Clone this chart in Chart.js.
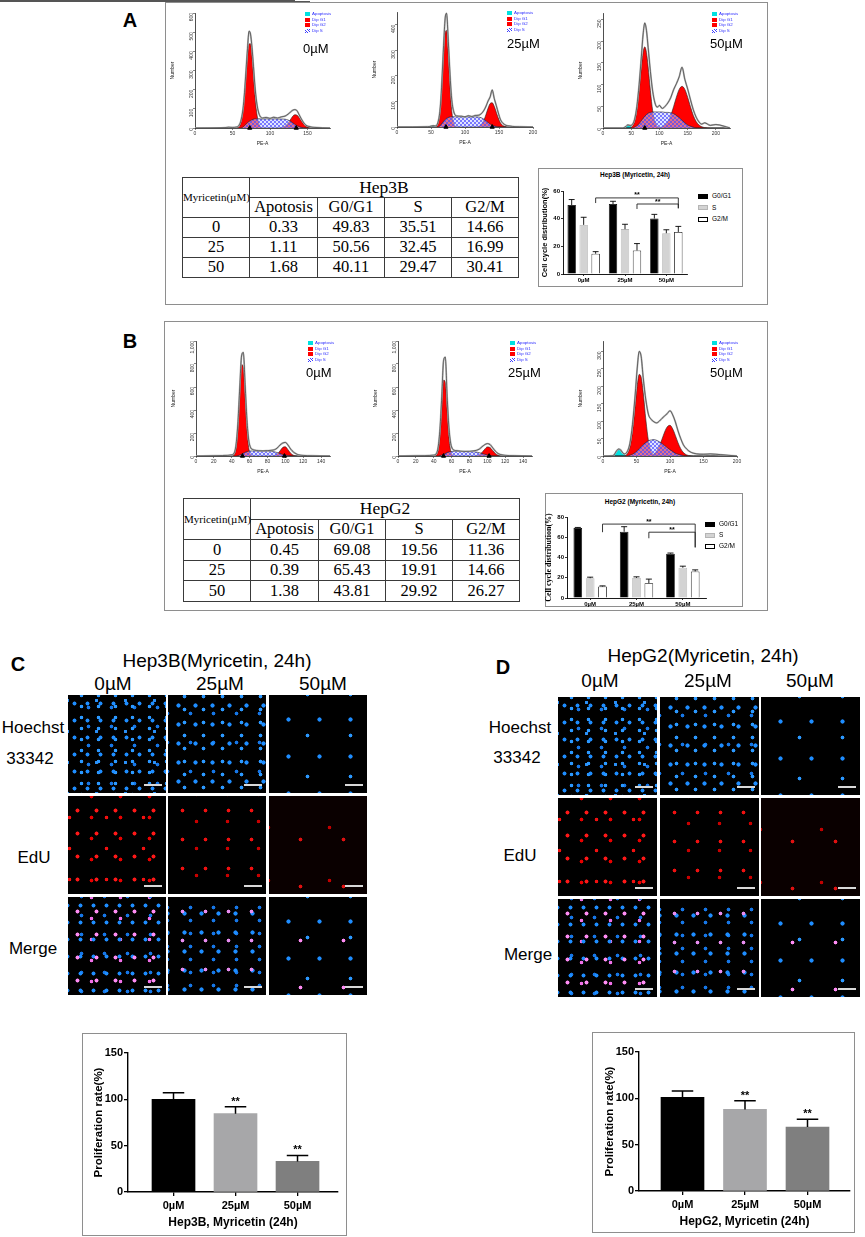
<!DOCTYPE html>
<html>
<head>
<meta charset="utf-8">
<title>Myricetin: cell cycle and EdU proliferation</title>
<script src="https://cdn.jsdelivr.net/npm/chart.js@4.4.1/dist/chart.umd.min.js"></script>
<style>
  body { margin:0; width:865px; height:1237px; position:relative; background:#fff; overflow:hidden;
         font-family:"Liberation Sans", Arial, sans-serif; color:#000; }
  canvas { position:absolute; }
  .t { position:absolute; white-space:nowrap; line-height:1; }
  .box { position:absolute; box-sizing:border-box; border:1.5px solid #8e8e8e; }
  .sq { position:absolute; box-sizing:border-box; }
  table.cc { position:absolute; border-collapse:collapse; table-layout:fixed;
             font-family:"Liberation Serif","Times New Roman",serif; border:1.6px solid #3a3a3a; }
  table.cc td { border:1.3px solid #3a3a3a; text-align:center; padding:0; font-size:16.5px; line-height:1; }
  .img { position:absolute; background-color:#000; }
  .img .bar { position:absolute; right:4px; bottom:7px; width:18px; height:2px; background:#d8d8d8; }
  .hb0  { background-image:radial-gradient(circle,#1e8dff 0 1.7px,transparent 2.3px),radial-gradient(circle,#2b98ff 0 1.5px,transparent 2.1px),radial-gradient(circle,#1676e6 0 1.6px,transparent 2.2px),radial-gradient(circle,#2a90f8 0 1.4px,transparent 2px);
          background-size:13px 17px,17px 11px,23px 19px,29px 31px; background-position:0 0,5px 6px,9px 3px,14px 21px; }
  .hb25 { background-image:radial-gradient(circle,#1e8dff 0 1.8px,transparent 2.4px),radial-gradient(circle,#2b98ff 0 1.6px,transparent 2.2px),radial-gradient(circle,#1676e6 0 1.6px,transparent 2.2px);
          background-size:17px 19px,19px 13px,23px 29px; background-position:2px 1px,7px 8px,11px 4px; }
  .hb50 { background-image:radial-gradient(circle,#1e8dff 0 1.8px,transparent 2.4px),radial-gradient(circle,#2b98ff 0 1.6px,transparent 2.2px);
          background-size:31px 37px,43px 41px; background-position:4px 6px,17px 20px; }
  .ed0  { background-image:radial-gradient(circle,#ff1818 0 1.7px,transparent 2.3px),radial-gradient(circle,#e80000 0 1.6px,transparent 2.2px),radial-gradient(circle,#f21010 0 1.5px,transparent 2.1px);
          background-size:19px 23px,29px 21px,37px 31px; background-position:0 3px,9px 11px,20px 6px; }
  .ed25 { background-image:radial-gradient(circle,#f01010 0 1.6px,transparent 2.2px),radial-gradient(circle,#c80000 0 1.5px,transparent 2.1px);
          background-size:23px 29px,31px 27px; background-position:3px 0,13px 12px; }
  .ed50 { background-color:#0a0000; background-image:radial-gradient(circle,#e01010 0 1.6px,transparent 2.2px),radial-gradient(circle,#c00000 0 1.5px,transparent 2.1px);
          background-size:43px 47px,61px 53px; background-position:10px 20px,30px 5px; }
  .mg0  { background-image:radial-gradient(circle,#ff8cf4 0 1.7px,transparent 2.3px),radial-gradient(circle,#1e8dff 0 1.7px,transparent 2.3px),radial-gradient(circle,#1676e6 0 1.6px,transparent 2.2px),radial-gradient(circle,#f070e8 0 1.5px,transparent 2.1px);
          background-size:19px 23px,13px 17px,23px 19px,29px 21px; background-position:0 3px,6px 0,2px 9px,9px 11px; }
  .mg25 { background-image:radial-gradient(circle,#e88cf0 0 1.6px,transparent 2.2px),radial-gradient(circle,#1e8dff 0 1.8px,transparent 2.4px),radial-gradient(circle,#1676e6 0 1.6px,transparent 2.2px);
          background-size:23px 29px,17px 19px,23px 13px; background-position:3px 0,8px 7px,11px 4px; }
  .mg50 { background-image:radial-gradient(circle,#ff8cf4 0 1.6px,transparent 2.2px),radial-gradient(circle,#1e8dff 0 1.8px,transparent 2.4px),radial-gradient(circle,#2b98ff 0 1.6px,transparent 2.2px);
          background-size:43px 47px,31px 37px,43px 41px; background-position:10px 20px,4px 6px,17px 20px; }
</style>
</head>
<body>
<script>
// ---------- data ----------
const doses = ['0µM', '25µM', '50µM'];
const doseValues = [0, 25, 50];
const phases = ['G0/G1', 'S', 'G2/M'];

// Hep3B flow histograms (PE-A channel vs count)
const a1Pe = [0,40,45,50,55,58,61,64,66,68,70,72,74,76,78,80,82,85,90,95,100,105,110,115,120,124,127,130,133,136,139,142,145,148,152,156,160,170,180];
const a1Total = [0,2,4,3,5,10,35,100,185,300,415,505,490,420,320,215,140,78,52,55,50,56,52,58,62,72,82,92,96,90,68,46,27,14,8,4,3,1,0];
const a1G1 = [0,0,0,0,1,5,25,88,168,271,373,438,440,373,271,168,88,25,1,0,0,0,0,0,0,0,0,0,0,0,0,0,0,0,0,0,0,0,0];
const a1S = [0,0,0,0,0,0,0,5,12,20,28,34,39,43,46,48,48,48,47,48,47,48,47,47,46,42,36,28,20,12,7,3,1,0,0,0,0,0,0];
const a1G2 = [0,0,0,0,0,0,0,0,0,0,0,0,0,0,0,0,0,0,0,0,0,0,0,2,9,25,42,60,69,67,54,36,20,9,3,1,0,0,0];
const a1ApoPe = [40,45,50];
const a1Apo = [0,3,0];
const a1Marks = [73,135];

const a2Pe = [0,45,50,53,56,60,63,65,67,69,71,73,75,77,79,81,84,88,95,100,105,110,115,120,124,128,131,134,137,140,143,146,149,152,156,160,165,170,180,200];
const a2Total = [0,1,3,5,4,16,60,130,235,345,430,445,360,255,160,95,55,43,42,40,44,41,45,46,52,66,82,102,118,145,112,84,55,30,14,7,4,2,1,0];
const a2G1 = [0,0,0,0,0,11,52,114,207,307,374,378,307,207,114,52,11,1,0,0,0,0,0,0,0,0,0,0,0,0,0,0,0,0,0,0,0,0,0,0];
const a2S = [0,0,0,0,0,0,4,10,17,24,30,34,37,39,40,40,40,40,40,39,40,39,40,39,36,30,24,18,12,7,4,2,0,0,0,0,0,0,0,0];
const a2G2 = [0,0,0,0,0,0,0,0,0,0,0,0,0,0,0,0,0,0,0,0,0,0,0,2,10,28,50,74,92,95,81,58,35,17,5,2,0,0,0,0];
const a2ApoPe = [45,50,53,56];
const a2Apo = [0,4,5,0];
const a2Marks = [72,140];

const a3Pe = [0,35,40,44,48,52,56,60,64,68,71,74,77,80,84,88,92,96,100,105,110,115,120,125,130,135,140,145,150,155,160,165,170,175,180,190,200,225];
const a3Total = [0,0,3,7,6,8,20,50,100,165,215,242,225,185,130,85,58,48,52,45,50,58,70,88,102,118,140,112,90,65,42,25,14,9,12,6,8,0];
const a3G1 = [0,0,0,0,0,4,15,40,86,141,174,187,174,141,86,40,15,4,1,0,0,0,0,0,0,0,0,0,0,0,0,0,0,0,0,0,0,0];
const a3S = [0,0,0,0,0,0,2,5,10,17,22,27,31,34,36,37,37,37,37,37,36,36,35,33,29,24,18,12,7,4,2,0,0,0,0,0,0,0];
const a3G2 = [0,0,0,0,0,0,0,0,0,0,0,0,0,0,0,0,0,0,1,3,7,15,29,49,71,89,96,89,71,49,29,15,7,3,1,0,0,0];
const a3ApoPe = [35,40,44,48,52];
const a3Apo = [0,3,6,5,0];
const a3Marks = [74];

// HepG2 flow histograms
const b1Pe = [0,20,30,40,43,45,47,49,51,53,55,57,59,61,63,66,70,75,80,85,88,91,94,97,100,103,106,109,112,115,120,130,150];
const b1Total = [0,2,4,10,30,110,300,600,870,900,620,320,140,75,58,50,46,45,47,50,55,70,95,112,118,95,60,35,20,10,5,2,0];
const b1G1 = [0,0,0,0,15,74,240,523,795,770,523,240,74,15,2,0,0,0,0,0,0,0,0,0,0,0,0,0,0,0,0,0,0];
const b1S = [0,0,0,0,0,0,3,8,15,24,32,38,42,44,44,44,43,42,42,40,36,30,22,14,8,4,1,0,0,0,0,0,0];
const b1G2 = [0,0,0,0,0,0,0,0,0,0,0,0,0,0,0,0,0,0,0,1,4,17,44,74,80,55,24,7,1,0,0,0,0];
const b1Marks = [52,99];

const b2Pe = [0,20,30,40,43,45,47,49,51,53,55,57,59,61,63,66,70,75,80,85,88,91,94,97,100,103,106,109,112,115,120,130,150];
const b2Total = [0,2,3,8,22,80,240,520,830,860,520,250,110,62,50,46,42,40,41,45,50,60,80,98,108,100,72,42,22,12,6,3,0];
const b2G1 = [0,0,0,0,10,50,175,415,660,640,400,165,45,9,1,0,0,0,0,0,0,0,0,0,0,0,0,0,0,0,0,0,0];
const b2S = [0,0,0,0,0,0,3,8,14,22,30,35,38,40,40,40,39,39,38,37,34,29,22,15,9,4,1,0,0,0,0,0,0];
const b2G2 = [0,0,0,0,0,0,0,0,0,0,0,0,0,0,0,0,0,0,0,0,3,11,30,58,79,74,48,22,7,2,0,0,0];
const b2Marks = [51,102];

const b3Pe = [0,15,20,23,26,29,32,36,40,44,48,51,54,57,60,64,68,72,76,80,84,88,92,96,100,104,108,112,116,120,125,130,135,140,150,160,175,200];
const b3Total = [0,1,14,20,18,10,6,12,35,90,175,250,300,285,225,160,118,105,98,95,100,108,115,122,130,118,98,72,50,32,20,12,8,6,5,6,4,0];
const b3G1 = [0,0,0,0,0,0,0,6,24,69,143,200,234,226,183,103,42,13,3,0,0,0,0,0,0,0,0,0,0,0,0,0,0,0,0,0,0,0];
const b3S = [0,0,0,0,0,0,0,0,2,5,10,15,21,27,33,39,44,46,47,45,41,36,30,24,18,13,8,5,3,1,0,0,0,0,0,0,0,0];
const b3G2 = [0,0,0,0,0,0,0,0,0,0,0,0,0,0,0,0,0,2,6,14,29,48,69,84,88,78,59,38,21,10,3,1,0,0,0,0,0,0];
const b3ApoPe = [15,20,23,26,29,32,36];
const b3Apo = [0,12,18,19,12,3,0];
const b3Marks = [];

// cell cycle tables and bars
const hep3bApo = [0.33, 1.11, 1.68];
const hep3bG1 = [49.83, 50.56, 40.11];
const hep3bS = [35.51, 32.45, 29.47];
const hep3bG2M = [14.66, 16.99, 30.41];
const hep3bG1Err = [4, 2, 3];
const hep3bSErr = [5.5, 3.5, 2.5];
const hep3bG2MErr = [1.5, 5, 4];
const hep3bBrFrom = [0, 1];
const hep3bBrTo = [2, 2];
const hep3bBrLevel = [55, 50.6];
const hep3bBrLeft = [51.3, 47];
const hep3bBrRight = [47.5, 47.5];

const hepg2Apo = [0.45, 0.39, 1.38];
const hepg2G1 = [69.08, 65.43, 43.81];
const hepg2S = [19.56, 19.91, 29.92];
const hepg2G2M = [11.36, 14.66, 26.27];
const hepg2G1Err = [0.6, 5, 0.6];
const hepg2SErr = [1, 1, 1.5];
const hepg2G2MErr = [0.6, 4, 1.5];
const hepg2BrFrom = [0, 1];
const hepg2BrTo = [2, 2];
const hepg2BrLevel = [73, 65];
const hepg2BrLeft = [65, 59];
const hepg2BrRight = [50, 50];

// EdU proliferation rate
const prolif3b = [100, 84.5, 33];
const prolif3bErr = [7, 7.5, 6.5];
const prolifG2 = [101, 88, 69];
const prolifG2Err = [7, 9.5, 8.5];
const prolifStars = ['', '**', '**'];

const rowLabels = [['Hoechst', '33342'], ['EdU'], ['Merge']];

// ---------- helpers ----------
Chart.defaults.font.family = "'Liberation Sans', Arial, sans-serif";
Chart.defaults.color = '#000';
Chart.defaults.animation = false;
Chart.defaults.plugins.legend.display = false;
Chart.defaults.plugins.tooltip.enabled = false;

function el(tag, css, html) {
  const d = document.createElement(tag);
  d.style.cssText = css;
  if (html !== undefined) d.innerHTML = html;
  document.body.appendChild(d);
  return d;
}

// centred text; drawn at 2x and scaled down so tiny sizes still work
function ct(text, cx, cy, size, extra) {
  const d = el('div', `left:${cx}px;top:${cy}px;font-size:${size * 2}px;transform:translate(-50%,-50%) scale(0.5);` + (extra || ''), text);
  d.className = 't';
  return d;
}
// left aligned text, vertically centred on cy
function lt(text, x, cy, size, extra) {
  const d = el('div', `left:${x}px;top:${cy}px;font-size:${size * 2}px;transform-origin:0 0;transform:scale(0.5) translateY(-50%);` + (extra || ''), text);
  d.className = 't';
  return d;
}
function box(l, t, r, b) {
  el('div', `left:${l}px;top:${t}px;width:${r - l}px;height:${b - t}px`).className = 'box';
}

function place(r, m) {
  const c = document.createElement('canvas');
  const w = r[2] - r[0] + m.yw + m.pr, h = r[3] - r[1] + m.pt + m.xh;
  c.width = w; c.height = h;
  c.style.left = (r[0] - m.yw) + 'px';
  c.style.top = (r[1] - m.pt) + 'px';
  c.style.width = w + 'px';
  c.style.height = h + 'px';
  document.body.appendChild(c);
  return c;
}

function hatchPattern(ctx) {
  const p = document.createElement('canvas');
  p.width = 4; p.height = 4;
  const g = p.getContext('2d');
  g.fillStyle = 'rgba(200,205,255,0.55)';
  g.fillRect(0, 0, 4, 4);
  g.strokeStyle = '#4a4aff';
  g.lineWidth = 0.7;
  g.beginPath();
  g.moveTo(0, 4); g.lineTo(4, 0);
  g.moveTo(0, 0); g.lineTo(4, 4);
  g.stroke();
  return ctx.createPattern(p, 'repeat');
}

function pts(xs, ys) { return xs.map((x, i) => ({ x, y: ys[i] })); }

function makeHist(r, pe, total, g1, g2, s, apoPe, apo, marks, xMax, xStep, yMax, yStep) {
  const m = { yw: 26, xh: 20, pt: 5, pr: 6 };
  const c = place(r, m);
  const ctx = c.getContext('2d');
  const hatch = hatchPattern(ctx);
  const line = { pointRadius: 0, cubicInterpolationMode: 'monotone', borderWidth: 0.6, borderColor: '#222' };
  const sets = [
    { ...line, data: pts(pe, total), borderColor: '#2a2a2a', borderWidth: 0.6, fill: false, order: 1 },
    { ...line, data: pts(pe, total), borderColor: '#b4b4b4', borderWidth: 1.8, fill: false, order: 2 },
    { ...line, data: pts(pe, s), backgroundColor: hatch, fill: 'origin', order: 3 },
    { ...line, data: pts(pe, g1), backgroundColor: '#ff0000', fill: 'origin', order: 4 },
    { ...line, data: pts(pe, g2), backgroundColor: '#ff0000', fill: 'origin', order: 4 },
    { data: marks.map(x => ({ x, y: 0 })), showLine: false, pointStyle: 'triangle', pointRadius: 2.4,
      backgroundColor: '#000', borderColor: '#000', clip: false, order: 0 }
  ];
  if (apo) sets.push({ ...line, data: pts(apoPe, apo), backgroundColor: '#00e0e0', borderColor: '#00b0b0', fill: 'origin', order: 4 });
  const axis = { grid: { display: true, drawOnChartArea: false, tickLength: 2, color: '#333', lineWidth: 0.6 },
                 border: { color: '#222', width: 0.8 } };
  new Chart(ctx, {
    type: 'line',
    data: { datasets: sets },
    options: {
      responsive: false,
      layout: { padding: { top: m.pt, right: m.pr, left: 0, bottom: 0 } },
      scales: {
        x: { ...axis, type: 'linear', min: 0, max: xMax,
             ticks: { stepSize: xStep, includeBounds: false, font: { size: 5 }, color: '#333', padding: 1, maxRotation: 0 },
             title: { display: true, text: 'PE-A', font: { size: 5 }, padding: 1, color: '#222' },
             afterFit: s2 => { s2.height = m.xh; } },
        y: { ...axis, min: 0, max: yMax,
             ticks: { stepSize: yStep, includeBounds: false, font: { size: 5 }, color: '#333', padding: 1, minRotation: 90, maxRotation: 90 },
             title: { display: true, text: 'Number', font: { size: 5 }, padding: 1, color: '#222' },
             afterFit: s2 => { s2.width = m.yw; } }
      }
    }
  });
}

function histLegend(x, y) {
  const items = [['Apoptosis', 'background:#00e0e0'], ['Dip G1', 'background:#ff0000'],
                 ['Dip G2', 'background:#ff0000'], ['Dip S', 'background:repeating-linear-gradient(45deg,#3d3dff 0 0.8px,#fff 0.8px 1.8px)']];
  items.forEach((it, k) => {
    el('div', `left:${x}px;top:${y + k * 5.5 - 2}px;width:5px;height:4px;` + it[1]).className = 'sq';
    lt(it[0], x + 7, y + k * 5.5, 4.4, 'color:#2a2aff');
  });
}

function makeTable(l, t, rowH, cell, apo, g1, s, g2m) {
  const widths = [67, 68, 67, 67, 67];
  let h = '<colgroup>' + widths.map(w => `<col style="width:${w}px">`).join('') + '</colgroup>';
  h += `<tr style="height:${rowH}px"><td rowspan="2" style="font-size:11px">Myricetin(µM)</td><td colspan="4" style="font-size:17.5px">${cell}</td></tr>`;
  h += `<tr style="height:${rowH}px">` + ['Apotosis', ...phases].map(p => `<td>${p}</td>`).join('') + '</tr>';
  doseValues.forEach((d, i) => {
    h += `<tr style="height:${rowH}px"><td>${d}</td><td>${apo[i].toFixed(2)}</td><td>${g1[i].toFixed(2)}</td><td>${s[i].toFixed(2)}</td><td>${g2m[i].toFixed(2)}</td></tr>`;
  });
  const tb = el('table', `left:${l}px;top:${t}px;width:336px`, h);
  tb.className = 'cc';
}

function errPlugin(errs, stars, starFont, lw, cap) {
  return {
    id: 'errbars',
    afterDatasetsDraw(chart) {
      const ctx = chart.ctx, y = chart.scales.y;
      ctx.save();
      ctx.strokeStyle = '#000';
      ctx.fillStyle = '#000';
      ctx.lineWidth = lw;
      ctx.textAlign = 'center';
      ctx.font = starFont;
      errs.forEach((e, di) => {
        chart.getDatasetMeta(di).data.forEach((bar, i) => {
          const raw = chart.data.datasets[di].data[i];
          const v = typeof raw === 'object' ? raw.y : raw;
          const top = y.getPixelForValue(v + e[i]);
          const w = bar.width * cap;
          ctx.beginPath();
          ctx.moveTo(bar.x, bar.y); ctx.lineTo(bar.x, top);
          ctx.moveTo(bar.x - w / 2, top); ctx.lineTo(bar.x + w / 2, top);
          ctx.stroke();
          if (stars && stars[i]) ctx.fillText(stars[i], bar.x, top - 2);
        });
      });
      ctx.restore();
    }
  };
}

function bracketPlugin(from, to, level, left, right) {
  return {
    id: 'brackets',
    afterDatasetsDraw(chart) {
      const ctx = chart.ctx, y = chart.scales.y, meta = chart.getDatasetMeta(2);
      ctx.save();
      ctx.strokeStyle = '#222';
      ctx.fillStyle = '#000';
      ctx.lineWidth = 0.9;
      ctx.textAlign = 'center';
      ctx.font = "bold 7px 'Liberation Sans'";
      from.forEach((f, k) => {
        const x1 = meta.data[f].x, x2 = meta.data[to[k]].x, yl = y.getPixelForValue(level[k]);
        ctx.beginPath();
        ctx.moveTo(x1, y.getPixelForValue(left[k]));
        ctx.lineTo(x1, yl); ctx.lineTo(x2, yl);
        ctx.lineTo(x2, y.getPixelForValue(right[k]));
        ctx.stroke();
        ctx.fillText('**', (x1 + x2) / 2, yl - 0.5);
      });
      ctx.restore();
    }
  };
}

function makeCycle(r, g1, s, g2m, errs, yMax, br, yTitleFont, catPct) {
  const m = { yw: 24, xh: 12, pt: 6, pr: 4 };
  const c = place(r, m);
  const axis = { grid: { display: true, drawOnChartArea: false, tickLength: 2, color: '#000', lineWidth: 0.8, offset: false },
                 border: { color: '#000', width: 0.9 } };
  new Chart(c.getContext('2d'), {
    type: 'bar',
    data: {
      labels: doses,
      datasets: [
        { label: phases[0], data: g1, backgroundColor: '#000', borderColor: '#000', borderWidth: 0.8 },
        { label: phases[1], data: s, backgroundColor: '#d3d3d3', borderColor: '#b5b5b5', borderWidth: 0.8 },
        { label: phases[2], data: g2m, backgroundColor: '#fff', borderColor: '#000', borderWidth: 0.8 }
      ]
    },
    options: {
      responsive: false,
      categoryPercentage: catPct,
      barPercentage: 0.7,
      layout: { padding: { top: m.pt, right: m.pr, left: 0, bottom: 0 } },
      scales: {
        x: { ...axis, ticks: { font: { size: 6, weight: 'bold' }, padding: 1 },
             afterFit: s2 => { s2.height = m.xh; } },
        y: { ...axis, min: 0, max: yMax, ticks: { stepSize: 20, font: { size: 6, weight: 'bold' }, padding: 1 },
             title: { display: true, text: 'Cell cycle distribution(%)', font: yTitleFont, padding: 1 },
             afterFit: s2 => { s2.width = m.yw; } }
      }
    },
    plugins: [errPlugin(errs, null, '', 0.9, 0.7), bracketPlugin(...br)]
  });
}

function cycleLegend(x, y, step) {
  const sw = ['background:#000', 'background:#d3d3d3;border:0.8px solid #b5b5b5', 'background:#fff;border:0.9px solid #000'];
  phases.forEach((p, k) => {
    el('div', `left:${x}px;top:${y + k * step - 2.5}px;width:10px;height:5px;` + sw[k]).className = 'sq';
    lt(p, x + 14, y + k * step, 6.5, '');
  });
}

function makeProlif(r, vals, errs, xMin, xMax, title) {
  const m = { yw: 40, xh: 42, pt: 10, pr: 10 };
  const c = place(r, m);
  const axis = { grid: { display: true, drawOnChartArea: false, tickLength: 4, color: '#000', lineWidth: 1.3, offset: false },
                 border: { color: '#000', width: 1.4 } };
  new Chart(c.getContext('2d'), {
    type: 'bar',
    data: { datasets: [{ data: vals.map((v, i) => ({ x: i + 1, y: v })),
                         backgroundColor: ['#000000', '#a7a7a9', '#7f7f7f'], borderWidth: 0, barThickness: 43 }] },
    options: {
      responsive: false,
      layout: { padding: { top: m.pt, right: m.pr, left: 0, bottom: 0 } },
      scales: {
        x: { ...axis, type: 'linear', offset: false, min: xMin, max: xMax,
             afterBuildTicks: s2 => { s2.ticks = doses.map((d, i) => ({ value: i + 1 })); },
             ticks: { callback: v => doses[v - 1], font: { size: 11, weight: 'bold' }, padding: 3 },
             title: { display: true, text: title, font: { size: 12, weight: 'bold' }, padding: { top: 6, bottom: 4 } },
             afterFit: s2 => { s2.height = m.xh; } },
        y: { ...axis, min: 0, max: 150, ticks: { stepSize: 50, font: { size: 11, weight: 'bold' }, padding: 1 },
             title: { display: true, text: 'Proliferation rate(%)', font: { size: 11.5, weight: 'bold' }, padding: 4 },
             afterFit: s2 => { s2.width = m.yw; } }
      }
    },
    plugins: [errPlugin([errs], prolifStars, "bold 11px 'Liberation Sans'", 1.5, 0.5)]
  });
}

function images(cols, rows, w, h) {
  const kinds = ['hb', 'ed', 'mg'];
  rows.forEach((y, ri) => {
    cols.forEach((x, ci) => {
      const d = el('div', `left:${x}px;top:${y}px;width:${w}px;height:${h}px`, '<div class="bar"></div>');
      d.className = 'img ' + kinds[ri] + ['0', '25', '50'][ci];
    });
  });
}

// ---------- panel A ----------
box(165, 2, 768, 305);
ct('A', 130, 20, 20, 'font-weight:bold');
makeHist([195, 13, 330, 128], a1Pe, a1Total, a1G1, a1G2, a1S, a1ApoPe, a1Apo, a1Marks, 180, 50, 600, 100);
makeHist([397, 12, 533, 127], a2Pe, a2Total, a2G1, a2G2, a2S, a2ApoPe, a2Apo, a2Marks, 200, 50, 450, 100);
makeHist([603, 13, 730, 128], a3Pe, a3Total, a3G1, a3G2, a3S, a3ApoPe, a3Apo, a3Marks, 225, 50, 265, 50);
histLegend(305, 14); histLegend(507, 13); histLegend(712, 14);
lt(doses[0], 303, 48, 13); lt(doses[1], 507, 43, 13); lt(doses[2], 710, 43, 13);
makeTable(182, 177, 20, 'Hep3B', hep3bApo, hep3bG1, hep3bS, hep3bG2M);
box(538, 168, 743, 287);
ct('Hep3B (Myricetin, 24h)', 635, 175, 6.5, 'font-weight:bold');
makeCycle([563, 191, 687, 274], hep3bG1, hep3bS, hep3bG2M, [hep3bG1Err, hep3bSErr, hep3bG2MErr], 60,
          [hep3bBrFrom, hep3bBrTo, hep3bBrLevel, hep3bBrLeft, hep3bBrRight], { size: 7.5, weight: 'bold' }, 0.87);
cycleLegend(698, 196, 11.5);

// ---------- panel B ----------
box(164, 321, 768, 611);
ct('B', 130, 341, 20, 'font-weight:bold');
makeHist([196, 341, 330, 456], b1Pe, b1Total, b1G1, b1G2, b1S, null, null, b1Marks, 150, 20, 1000, 200);
makeHist([398, 341, 532, 456], b2Pe, b2Total, b2G1, b2G2, b2S, null, null, b2Marks, 150, 20, 1000, 200);
makeHist([603, 341, 737, 456], b3Pe, b3Total, b3G1, b3G2, b3S, b3ApoPe, b3Apo, b3Marks, 200, 50, 330, 50);
histLegend(308, 343); histLegend(510, 343); histLegend(712, 343);
lt(doses[0], 306, 372, 13); lt(doses[1], 508, 372, 13); lt(doses[2], 710, 372, 13);
makeTable(183, 498, 20.5, 'HepG2', hepg2Apo, hepg2G1, hepg2S, hepg2G2M);
box(545, 493, 743, 607);
ct('HepG2 (Myricetin, 24h)', 640, 502, 6.5, 'font-weight:bold');
makeCycle([567, 517, 706, 598], hepg2G1, hepg2S, hepg2G2M, [hepg2G1Err, hepg2SErr, hepg2G2MErr], 80,
          [hepg2BrFrom, hepg2BrTo, hepg2BrLevel, hepg2BrLeft, hepg2BrRight],
          { size: 8, weight: 'bold', family: "'Liberation Serif', serif" }, 0.8);
cycleLegend(705, 524, 11);

// ---------- panel C ----------
ct('C', 18, 664, 20, 'font-weight:bold');
ct('Hep3B(Myricetin, 24h)', 217, 660, 19);
el('div', 'left:70px;top:670px;width:295px;height:1px;background:#555');
ct(doses[0], 113, 683, 19); ct(doses[1], 220, 683, 19); ct(doses[2], 323, 683, 19);
images([68, 168, 269], [695, 796, 897], 98, 98);
ct(rowLabels[0][0], 33, 727, 17); ct(rowLabels[0][1], 30, 758, 17);
ct(rowLabels[1][0], 34, 857, 17); ct(rowLabels[2][0], 33, 948, 17);
box(82, 1033, 347, 1236);
makeProlif([128, 1053, 338, 1192], prolif3b, prolif3bErr, 0.266, 3.653, 'Hep3B, Myricetin (24h)');

// ---------- panel D ----------
ct('D', 503, 667, 20, 'font-weight:bold');
ct('HepG2(Myricetin, 24h)', 703, 655, 19);
el('div', 'left:555px;top:669px;width:310px;height:1px;background:#555');
ct(doses[0], 600, 680, 19); ct(doses[1], 708, 680, 19); ct(doses[2], 810, 680, 19);
images([558, 660, 761], [697, 798, 899], 99, 98);
ct(rowLabels[0][0], 520, 727, 17); ct(rowLabels[0][1], 517, 757, 17);
ct(rowLabels[1][0], 520, 855, 17); ct(rowLabels[2][0], 528, 954, 17);
box(592, 1032, 855, 1233);
makeProlif([639, 1052, 850, 1191], prolifG2, prolifG2Err, 0.304, 3.68, 'HepG2, Myricetin (24h)');
</script>
</body>
</html>
